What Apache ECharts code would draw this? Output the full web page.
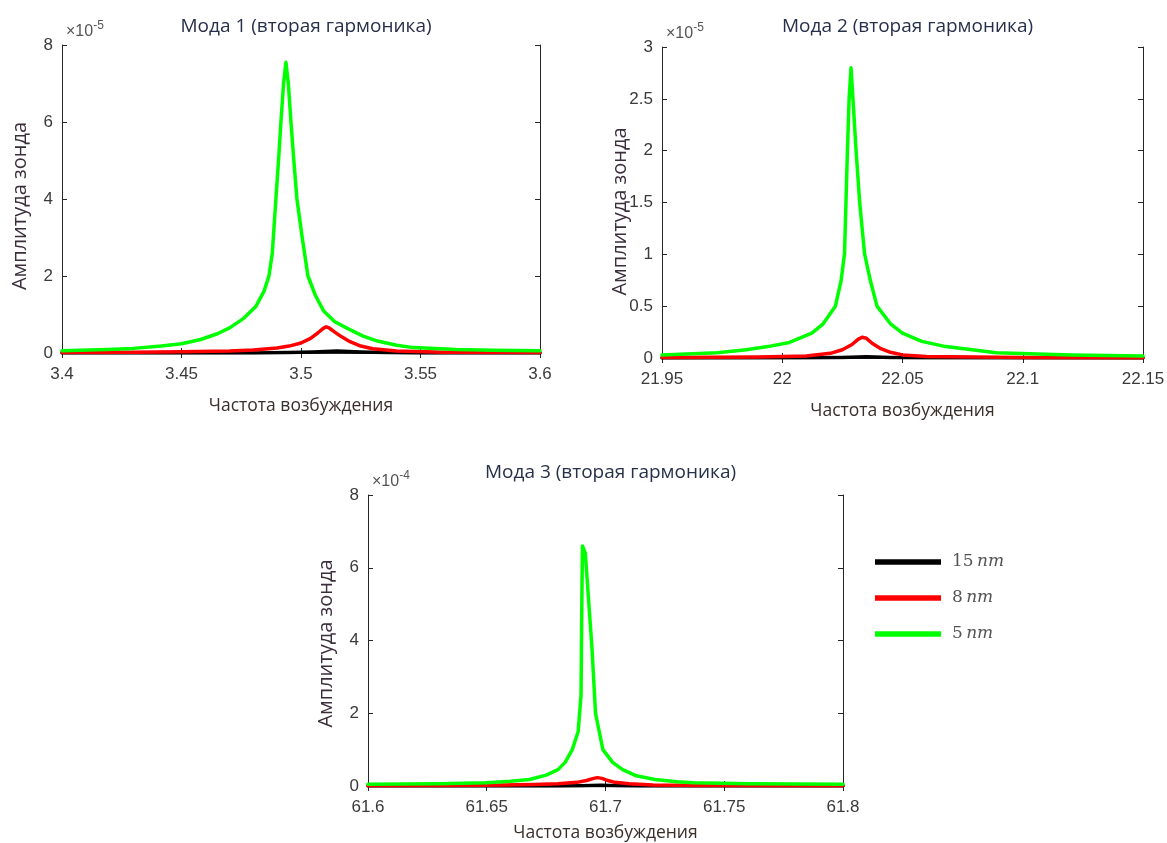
<!DOCTYPE html>
<html lang="ru">
<head>
<meta charset="UTF-8">
<title>Моды, вторая гармоника</title>
<style>
    html, body { margin: 0; padding: 0; background: #fff; }
    #main { width: 1167px; height: 843px; }
</style>
</head>
<body>
<div id="main"></div>
<script src="https://cdn.jsdelivr.net/npm/echarts@6/dist/echarts.min.js"></script>
<script>
// серии: толщина слоя 15 nm, 8 nm, 5 nm
var seriesNames = ['15 nm', '8 nm', '5 nm'];
var seriesColors = ['#000000', '#ff0000', '#00ff00'];

// Мода 1, амплитуда в единицах 1e-5
var mode1Black = [[3.40,0],[3.48,0.003],[3.495,0.01],[3.505,0.025],[3.515,0.05],[3.525,0.025],[3.535,0.01],[3.55,0.003],[3.60,0]];
var mode1Red = [[3.40,0.01],[3.43,0.02],[3.45,0.03],[3.47,0.05],[3.48,0.08],[3.49,0.13],[3.495,0.18],[3.50,0.26],[3.504,0.38],[3.507,0.52],[3.5093,0.64],[3.5105,0.68],[3.5118,0.65],[3.514,0.55],[3.517,0.42],[3.52,0.31],[3.525,0.18],[3.53,0.11],[3.54,0.05],[3.56,0.02],[3.60,0.01]];
var mode1Green = [[3.40,0.06],[3.419,0.09],[3.43,0.12],[3.4415,0.18],[3.45,0.24],[3.458,0.35],[3.465,0.5],[3.4703,0.66],[3.476,0.9],[3.481,1.2],[3.4845,1.6],[3.4866,2.0],[3.488,2.6],[3.4895,4.0],[3.4906,5.0],[3.4916,6.0],[3.4927,7.0],[3.4937,7.55],[3.4947,7.0],[3.4958,6.0],[3.497,5.0],[3.4983,4.0],[3.5005,3.0],[3.5029,2.0],[3.506,1.5],[3.5094,1.1],[3.514,0.82],[3.52,0.62],[3.526,0.44],[3.532,0.31],[3.54,0.2],[3.547,0.14],[3.565,0.09],[3.58,0.07],[3.60,0.06]];

// Мода 2, амплитуда в единицах 1e-5
var mode2Black = [[21.95,0],[22.01,0.002],[22.025,0.006],[22.035,0.012],[22.045,0.006],[22.06,0.002],[22.15,0]];
var mode2Red = [[21.95,0.005],[21.99,0.01],[22.01,0.02],[22.02,0.045],[22.025,0.08],[22.029,0.13],[22.0315,0.18],[22.0332,0.2],[22.035,0.19],[22.0375,0.14],[22.041,0.09],[22.045,0.055],[22.05,0.03],[22.06,0.015],[22.10,0.005],[22.15,0.003]];
var mode2Green = [[21.95,0.03],[21.973,0.05],[21.985,0.08],[21.994,0.11],[22.003,0.15],[22.0123,0.24],[22.017,0.33],[22.0221,0.5],[22.0245,0.75],[22.0259,1.01],[22.0265,1.5],[22.0271,2.0],[22.0278,2.5],[22.0286,2.8],[22.0294,2.5],[22.0307,2.0],[22.0322,1.5],[22.0342,1.01],[22.0366,0.75],[22.0394,0.5],[22.045,0.33],[22.050,0.24],[22.058,0.16],[22.068,0.11],[22.089,0.05],[22.12,0.03],[22.15,0.02]];

// Мода 3, амплитуда в единицах 1e-4
var mode3Black = [[61.6,0],[61.68,0.003],[61.69,0.01],[61.698,0.02],[61.706,0.01],[61.715,0.003],[61.8,0]];
var mode3Red = [[61.6,0.01],[61.65,0.02],[61.67,0.04],[61.68,0.06],[61.688,0.1],[61.692,0.15],[61.695,0.21],[61.6966,0.23],[61.6985,0.21],[61.701,0.15],[61.704,0.1],[61.71,0.06],[61.72,0.03],[61.74,0.015],[61.8,0.01]];
var mode3Green = [[61.6,0.05],[61.63,0.06],[61.65,0.09],[61.66,0.13],[61.668,0.18],[61.675,0.3],[61.68,0.45],[61.683,0.65],[61.686,1.0],[61.6885,1.5],[61.6897,2.5],[61.6899,4.0],[61.6901,5.5],[61.6903,6.6],[61.6915,6.4],[61.693,5.0],[61.6943,3.8],[61.6958,2.0],[61.6989,1.0],[61.703,0.65],[61.7072,0.45],[61.713,0.28],[61.7208,0.18],[61.73,0.12],[61.737,0.09],[61.76,0.06],[61.8,0.05]];

var titles = ['Мода 1 (вторая гармоника)', 'Мода 2 (вторая гармоника)', 'Мода 3 (вторая гармоника)'];
var xRanges = [[3.4, 3.6], [21.95, 22.15], [61.6, 61.8]];
var yRanges = [[0, 8, 2], [0, 3, 0.5], [0, 8, 2]];
var exponents = ['-5', '-5', '-4'];
var xName = 'Частота возбуждения';
var yName = 'Амплитуда зонда';

// outerBoundsMode none: не сжимать область графика из-за подписей у края
var grids = [
    {left: 62, top: 45, width: 478, height: 308, outerBoundsMode: 'none'},
    {left: 662, top: 47, width: 481, height: 311, outerBoundsMode: 'none'},
    {left: 368, top: 495, width: 475, height: 291, outerBoundsMode: 'none'}
];
var titleTops = [12, 12, 458];
var yNameShift = [7, 9, 3];
var xNameGaps = [44, 44, 38];
var modeData = [
    [mode1Black, mode1Red, mode1Green],
    [mode2Black, mode2Red, mode2Green],
    [mode3Black, mode3Red, mode3Green]
];

var axisColor = '#262626';
var labelFont = 'Liberation Sans, Arial, sans-serif';
var textFont = 'Open Sans, DejaVu Sans, sans-serif';
var serifFont = 'DejaVu Serif, Liberation Serif, serif';

var myChart = echarts.init(document.getElementById('main'));

var xAxes = [], yAxes = [], series = [], titleList = [];
grids.forEach(function (g, i) {
    titleList.push({
        text: titles[i],
        left: g.left + g.width / 2,
        top: titleTops[i],
        textAlign: 'center',
        textStyle: {fontFamily: textFont, fontSize: 19, fontWeight: 'normal', color: '#27304a'}
    });
    var xr = xRanges[i], yr = yRanges[i];
    // нижняя ось с подписями
    xAxes.push({
        type: 'value', gridIndex: i, min: xr[0], max: xr[1], interval: 0.05,
        name: xName, nameLocation: 'middle', nameGap: xNameGaps[i],
        nameTextStyle: {fontFamily: textFont, fontSize: 17.5, color: '#3a2e2a'},
        axisLine: {lineStyle: {color: axisColor, width: 1}},
        axisTick: {inside: true, length: 5, lineStyle: {color: axisColor}},
        axisLabel: {fontFamily: labelFont, fontSize: 17, color: '#3a3a3a', margin: 13,
            formatter: function (v) { return String(+v.toFixed(2)); }},
        splitLine: {show: false}
    });
    // верхняя ось - только рамка и штрихи
    xAxes.push({
        type: 'value', gridIndex: i, position: 'top', min: xr[0], max: xr[1], interval: 0.05,
        axisLine: {lineStyle: {color: axisColor, width: 1}},
        axisTick: {inside: true, length: 5, lineStyle: {color: axisColor}},
        axisLabel: {show: false}, splitLine: {show: false}
    });
    yAxes.push({
        type: 'value', gridIndex: i, min: yr[0], max: yr[1], interval: yr[2],
        name: '{a|×10}{b|' + exponents[i] + '}', nameLocation: 'end', nameGap: 1,
        nameTextStyle: {
            align: 'left', verticalAlign: 'bottom', padding: [0, 0, 0, 4],
            rich: {
                a: {fontFamily: labelFont, fontSize: 16, color: '#555'},
                b: {fontFamily: labelFont, fontSize: 12, color: '#555', verticalAlign: 'top', padding: [0, 0, 12, 0]}
            }
        },
        axisLine: {show: true, lineStyle: {color: axisColor, width: 1}},
        axisTick: {show: true, inside: true, length: 5, lineStyle: {color: axisColor}},
        axisLabel: {fontFamily: labelFont, fontSize: 17, color: '#3a3a3a', margin: 9},
        splitLine: {show: false}
    });
    yAxes.push({
        type: 'value', gridIndex: i, position: 'right', min: yr[0], max: yr[1], interval: yr[2],
        axisLine: {show: true, lineStyle: {color: axisColor, width: 1}},
        axisTick: {show: true, inside: true, length: 5, lineStyle: {color: axisColor}},
        axisLabel: {show: false}, splitLine: {show: false}
    });
    modeData[i].forEach(function (d, k) {
        series.push({
            name: seriesNames[k], type: 'line',
            xAxisIndex: i * 2, yAxisIndex: i * 2,
            data: d, showSymbol: false, symbol: 'none',
            lineStyle: {color: seriesColors[k], width: 3.5, join: 'round', cap: 'round'},
            itemStyle: {color: seriesColors[k]},
            z: 2 + k, animation: false
        });
    });
});

// подпись оси Y отдельным текстом
var yNameGraphics = grids.map(function (g, i) {
    return {
        type: 'text', x: g.left - 42, y: g.top + g.height / 2 + yNameShift[i], rotation: Math.PI / 2,
        style: {text: yName, fontFamily: textFont, fontSize: 20, fill: '#3a2e3a',
            textAlign: 'center', textVerticalAlign: 'middle'}
    };
});

var option = {
    backgroundColor: '#ffffff',
    animation: false,
    title: titleList,
    grid: grids,
    xAxis: xAxes,
    yAxis: yAxes,
    legend: {
        data: seriesNames, orient: 'vertical', left: 875, top: 553, padding: 0,
        icon: 'rect', itemWidth: 66, itemHeight: 5.5, itemGap: 18,
        formatter: function (name) {
            var p = name.split(' ');
            return '{n|' + p[0] + '} {i|' + p[1] + '}';
        },
        textStyle: {
            lineHeight: 18,
            rich: {
                n: {fontFamily: serifFont, fontSize: 17, color: '#555', lineHeight: 18, padding: [0, 0, 0, 6]},
                i: {fontFamily: serifFont, fontStyle: 'italic', fontSize: 17, color: '#555', lineHeight: 18}
            }
        }
    },
    graphic: yNameGraphics,
    series: series
};
myChart.setOption(option);
</script>
</body>
</html>
